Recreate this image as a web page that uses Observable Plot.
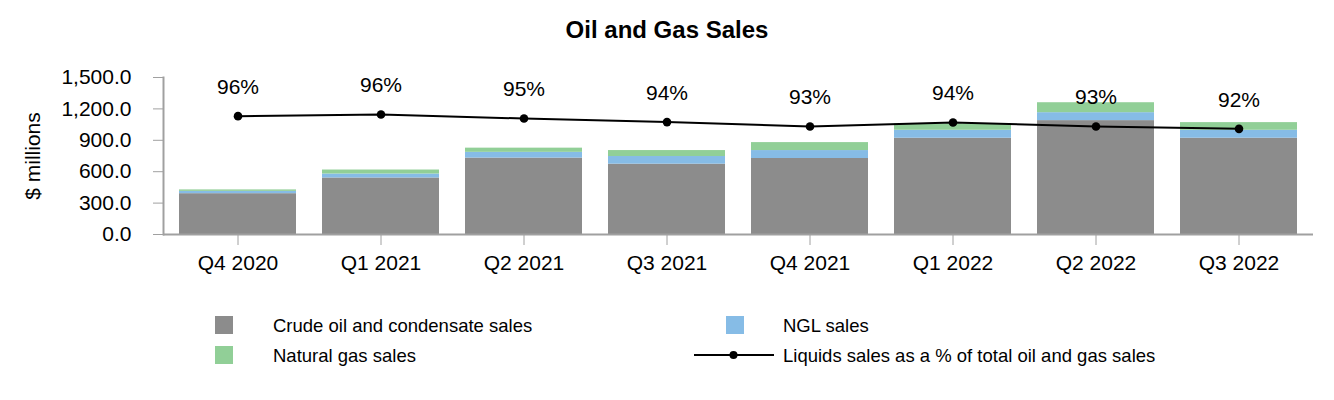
<!DOCTYPE html>
<html>
<head>
<meta charset="utf-8">
<script src="https://cdn.jsdelivr.net/npm/d3@7"></script>
<script src="https://cdn.jsdelivr.net/npm/@observablehq/plot@0.6"></script>
<style>
  html, body { margin: 0; padding: 0; background: #fff; }
  body { font-family: "Liberation Sans", Arial, sans-serif; color: #000; }
  #wrap { position: relative; width: 1334px; height: 400px; overflow: hidden; }
  #title { position: absolute; left: 0; top: 18px; width: 1334px; text-align: center;
           font-weight: bold; font-size: 24px; line-height: 24px; }
  #plot { position: absolute; left: 0; top: 60px; }
  .sw { position: absolute; width: 18px; height: 18px; }
  .lt { position: absolute; font-size: 18.5px; line-height: 19px; white-space: nowrap; }
  #lineKey { position: absolute; left: 690px; top: 345px; }
</style>
</head>
<body>
<div id="wrap">
  <div id="title">Oil and Gas Sales</div>
  <div id="plot"></div>
  <div id="legend"></div>
</div>
<script>
// ---- data ----
const quarters = ["Q4 2020", "Q1 2021", "Q2 2021", "Q3 2021", "Q4 2021", "Q1 2022", "Q2 2022", "Q3 2022"];
const crude = [390, 540, 730, 672, 726, 920, 1088, 920];
const ngl   = [22, 38, 55, 73, 76, 76, 76, 76];
const gas   = [14, 38, 40, 57, 76, 61, 95, 73];
const liquidsPct = [95.6, 96.0, 95.0, 94.1, 93.0, 94.0, 93.0, 92.4];
const yTicks = [0, 300, 600, 900, 1200, 1500];
const seriesNames = ["Crude oil and condensate sales", "NGL sales", "Natural gas sales"];
const lineName = "Liquids sales as a % of total oil and gas sales";
const seriesColors = ["#8c8c8c", "#86bce6", "#91cf97"];

// tidy table for stacked bars
const seriesValues = [crude, ngl, gas];
const bars = [];
quarters.forEach((q, i) => {
  seriesNames.forEach((s, j) => bars.push({q, s, v: seriesValues[j][i]}));
});
// hidden secondary axis for percentages
const pctToY = d3.scaleLinear().domain([80, 100]).range([538, 1298]);
const pts = quarters.map((q, i) => ({q, pct: liquidsPct[i], y: pctToY(liquidsPct[i]), label: Math.round(liquidsPct[i]) + "%"}));

const axisGray = "#a0a0a0";
const chart = Plot.plot({
  width: 1334,
  height: 220,
  marginLeft: 163,
  marginRight: 21,
  marginTop: 17,
  marginBottom: 46,
  style: {fontFamily: "'Liberation Sans', Arial, sans-serif", color: "#000", background: "#fff"},
  x: {type: "band", domain: quarters, paddingInner: 0.18, paddingOuter: 0.09},
  y: {domain: [0, 1500]},
  color: {domain: seriesNames, range: seriesColors},
  marks: [
    Plot.barY(bars, {x: "q", y: "v", fill: "s"}),
    Plot.frame({anchor: "left", stroke: axisGray, strokeWidth: 2}),
    Plot.ruleY([0], {stroke: axisGray, strokeWidth: 2}),
    Plot.axisY({ticks: yTicks, tickFormat: d3.format(",.1f"), tickSize: 10, tickPadding: 22,
                fontSize: 21, stroke: axisGray, fill: "#000",
                label: "$ millions", labelAnchor: "center", labelArrow: "none", labelOffset: 138}),
    Plot.axisX({tickSize: 11, tickPadding: 10, fontSize: 21, stroke: axisGray, fill: "#000", label: null}),
    Plot.line(pts, {x: "q", y: "y", stroke: "#000", strokeWidth: 2}),
    Plot.dot(pts, {x: "q", y: "y", r: 4.3, fill: "#000"}),
    Plot.text(pts, {x: "q", y: "y", text: "label", dy: -29, fontSize: 21, fill: "#000"})
  ]
});
document.getElementById("plot").appendChild(chart);

// ---- legend ----
const legend = document.getElementById("legend");
const items = [
  {name: seriesNames[0], color: seriesColors[0], sx: 215, tx: 273, row: 0},
  {name: seriesNames[1], color: seriesColors[1], sx: 726, tx: 783, row: 0},
  {name: seriesNames[2], color: seriesColors[2], sx: 215, tx: 273, row: 1}
];
const rowSwTop = [316, 346];
const rowTxTop = [316, 346];
items.forEach(it => {
  const sw = document.createElement("div");
  sw.className = "sw";
  sw.style.left = it.sx + "px";
  sw.style.top = rowSwTop[it.row] + "px";
  sw.style.background = it.color;
  legend.appendChild(sw);
  const t = document.createElement("div");
  t.className = "lt";
  t.style.left = it.tx + "px";
  t.style.top = rowTxTop[it.row] + "px";
  t.textContent = it.name;
  legend.appendChild(t);
});
const ns = "http://www.w3.org/2000/svg";
const ks = document.createElementNS(ns, "svg");
ks.setAttribute("id", "lineKey");
ks.setAttribute("width", "90");
ks.setAttribute("height", "20");
const ln = document.createElementNS(ns, "line");
ln.setAttribute("x1", "4"); ln.setAttribute("x2", "84");
ln.setAttribute("y1", "10"); ln.setAttribute("y2", "10");
ln.setAttribute("stroke", "#000"); ln.setAttribute("stroke-width", "2");
ks.appendChild(ln);
const c = document.createElementNS(ns, "circle");
c.setAttribute("cx", "43.5"); c.setAttribute("cy", "10"); c.setAttribute("r", "4");
c.setAttribute("fill", "#000");
ks.appendChild(c);
legend.appendChild(ks);
const lt = document.createElement("div");
lt.className = "lt";
lt.style.left = "783px";
lt.style.top = rowTxTop[1] + "px";
lt.textContent = lineName;
legend.appendChild(lt);
</script>
</body>
</html>
